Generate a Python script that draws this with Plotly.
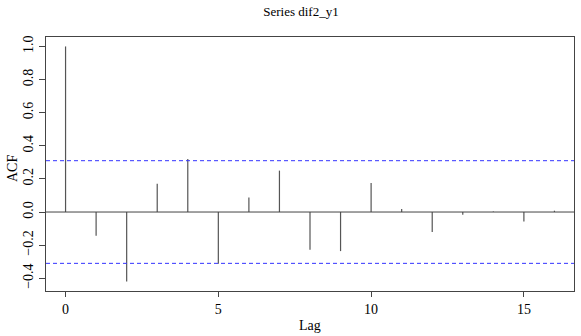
import plotly.graph_objects as go

lags = list(range(17))
acf = [1.0, -0.143, -0.42, 0.171, 0.32, -0.313, 0.088, 0.25, -0.228, -0.236,
       0.175, 0.018, -0.121, -0.016, 0.003, -0.057, 0.008]
ci = 0.31
x_ticks = [0, 5, 10, 15]
y_ticks = [-0.4, -0.2, 0.0, 0.2, 0.4, 0.6, 0.8, 1.0]
y_tick_labels = ["\u22120.4", "\u22120.2", "0.0", "0.2", "0.4", "0.6", "0.8", "1.0"]

xs, ys = [], []
for l, v in zip(lags, acf):
    xs += [l, l, None]
    ys += [0, v, None]

fig = go.Figure()
fig.add_trace(go.Scatter(x=xs, y=ys, mode="lines",
                         line=dict(color="#555555", width=1.2), hoverinfo="skip"))

FONT = "Liberation Serif"
fig.update_layout(
    width=581, height=336,
    margin=dict(l=46, r=7, t=37, b=45),
    paper_bgcolor="white", plot_bgcolor="white",
    showlegend=False,
    font=dict(family=FONT, size=13, color="black"),
    title=dict(text="Series dif2_y1", x=0.518, xanchor="center", y=0.965, yanchor="middle",
               font=dict(family=FONT, size=13, color="black")),
    xaxis=dict(range=[-0.64, 16.64], tickvals=x_ticks, showgrid=False, zeroline=False,
               automargin=False, tickfont=dict(family=FONT, size=14),
               ticks="outside", ticklen=5, tickcolor="#444", showline=True, mirror=True,
               linecolor="#444", linewidth=1),
    yaxis=dict(range=[-0.477, 1.057], tickvals=y_ticks, ticktext=y_tick_labels,
               automargin=False, tickfont=dict(family=FONT, size=14),
               tickangle=-90, showgrid=False, zeroline=False,
               ticks="outside", ticklen=6, tickcolor="#444", showline=True, mirror=True,
               linecolor="#444", linewidth=1),
    annotations=[
        dict(text="Lag", xref="paper", yref="paper", x=0.5, y=0, yshift=-34,
             xanchor="center", yanchor="middle", showarrow=False,
             font=dict(family=FONT, size=14)),
        dict(text="ACF", xref="paper", yref="paper", x=0, y=0.5, xshift=-34, yshift=-5,
             textangle=-90, xanchor="center", yanchor="middle", showarrow=False,
             font=dict(family=FONT, size=14)),
    ],
)
fig.add_hline(y=0, line=dict(color="#444", width=1))
fig.add_hline(y=ci, line=dict(color="#3333ff", width=1, dash="4px,3px"))
fig.add_hline(y=-ci, line=dict(color="#3333ff", width=1, dash="4px,3px"))

fig.write_html("out.html", config={"displayModeBar": False},
               post_script="document.body.style.margin='0px';document.body.style.padding='0px';")
